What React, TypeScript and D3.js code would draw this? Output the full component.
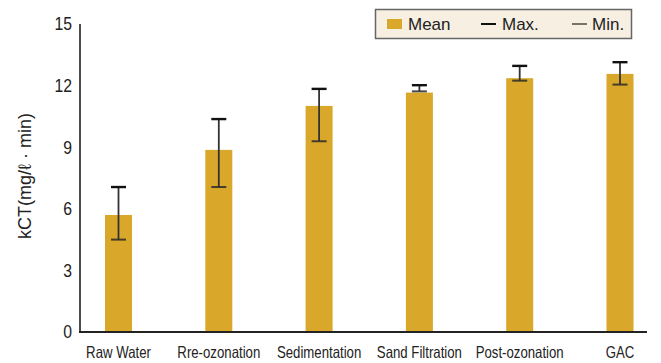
import React from "react";
import * as d3 from "d3";

// Treatment stages and kCT statistics (mg/ℓ · min)
const categories = ["Raw Water", "Rre-ozonation", "Sedimentation", "Sand Filtration", "Post-ozonation", "GAC"];
const meanValues = [5.7, 8.87, 11.01, 11.66, 12.36, 12.57];
const maxValues = [7.06, 10.37, 11.84, 12.02, 12.96, 13.14];
const minValues = [4.5, 7.06, 9.29, 11.72, 12.24, 12.05];
const yTicks = [0, 3, 6, 9, 12, 15];
const legendLabels = ["Mean", "Max.", "Min."];

const W = 661;
const H = 363;
const BAR = "#D9A82A";
const SANS = "'Liberation Sans', Arial, sans-serif";

export default function App() {
  const y = d3.scaleLinear().domain([0, 15]).range([332, 24]);
  const x = d3.scalePoint<string>().domain(categories).range([118.5, 620]);
  const barW = 27;
  const capW = 15;

  return (
    <svg width={W} height={H} style={{ position: "absolute", left: 0, top: 0, background: "#fff" }}>
      {/* bars */}
      {categories.map((c, i) => (
        <rect
          key={c}
          x={x(c)! - barW / 2}
          y={y(meanValues[i])}
          width={barW}
          height={y(0) - y(meanValues[i])}
          fill={BAR}
        />
      ))}

      {/* min/max whiskers */}
      {categories.map((c, i) => {
        const cx = x(c)!;
        return (
          <g key={c + "-err"}>
            <line x1={cx} x2={cx} y1={y(maxValues[i])} y2={y(minValues[i])} stroke="#333" strokeWidth={1.8} />
            <line x1={cx - capW / 2} x2={cx + capW / 2} y1={y(maxValues[i])} y2={y(maxValues[i])} stroke="#111" strokeWidth={2.4} />
            <line x1={cx - capW / 2} x2={cx + capW / 2} y1={y(minValues[i])} y2={y(minValues[i])} stroke="#2a2a2a" strokeOpacity={0.85} strokeWidth={2} />
          </g>
        );
      })}

      {/* axes */}
      <line x1={80} x2={80} y1={y(15)} y2={y(0) + 1} stroke="#111" strokeWidth={1.5} />
      <line x1={79} x2={647} y1={y(0)} y2={y(0)} stroke="#222" strokeWidth={2} />

      {yTicks.map((t) => (
        <text
          key={t}
          transform={`translate(72, ${y(t)}) scale(0.9, 1)`}
          dy="0.36em"
          textAnchor="end"
          fontFamily={SANS}
          fontSize={17.5}
          fill="#222"
        >
          {t}
        </text>
      ))}

      {categories.map((c) => (
        <text
          key={c + "-lab"}
          transform={`translate(${x(c)!}, 358) scale(0.8, 1)`}
          textAnchor="middle"
          fontFamily={SANS}
          fontSize={16.5}
          fill="#222"
        >
          {c}
        </text>
      ))}

      <text
        transform={`translate(31, ${y(7.5) - 2}) rotate(-90)`}
        textAnchor="middle"
        fontFamily={SANS}
        fontSize={18}
        fill="#222"
      >
        kCT(mg/ℓ · min)
      </text>

      {/* legend */}
      <g>
        <rect x={375.5} y={9.5} width={256} height={29} fill="#F7EFE2" stroke="#666" strokeWidth={1.5} />
        <rect x={387} y={19} width={15} height={10} fill={BAR} />
        <text x={408} y={30} fontFamily={SANS} fontSize={17} fill="#222">{legendLabels[0]}</text>
        <line x1={481} x2={496} y1={24} y2={24} stroke="#111" strokeWidth={2} />
        <text x={502} y={30} fontFamily={SANS} fontSize={17} fill="#222">{legendLabels[1]}</text>
        <line x1={572} x2={587} y1={24} y2={24} stroke="#222" strokeWidth={1.2} />
        <text x={592} y={30} fontFamily={SANS} fontSize={17} fill="#222">{legendLabels[2]}</text>
      </g>
    </svg>
  );
}
